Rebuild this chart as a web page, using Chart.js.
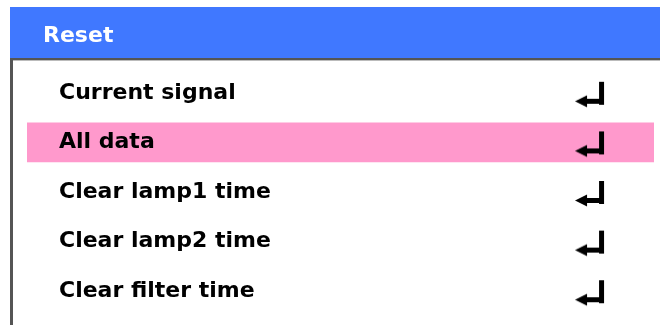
<!DOCTYPE html>
<html>
<head>
<meta charset="utf-8">
<script src="https://cdn.jsdelivr.net/npm/chart.js@4/dist/chart.umd.min.js"></script>
<style>
  html, body { margin: 0; padding: 0; background: #fff; }
  #wrap { width: 660px; height: 325px; position: relative; }
</style>
</head>
<body>
<div id="wrap"><canvas id="Reset-Chart"></canvas></div>
<script>
//-------------------------------------------------- Data
const menuTitle = "Reset";
const menuItems = ["Current signal", "All data", "Clear lamp1 time", "Clear lamp2 time", "Clear filter time"];
const selected = [0, 1, 0, 0, 0];            // highlighted row
const enterMarks = [0.898, 0.898, 0.898, 0.898, 0.898]; // enter key column
//^^^^^^^^^^^^^^^^^^^^^^^^^^^^^^^^^^^^^^^^^^^^^^^^^^ Data

// little "enter" arrow used as point style
function enterIcon() {
	const c = document.createElement("canvas");
	c.width = 30; c.height = 32;
	const g = c.getContext("2d");
	g.fillStyle = "#000";
	g.fillRect(24, 5, 5, 23);
	g.fillRect(10, 22, 19, 5);
	g.beginPath();
	g.moveTo(0, 24.5);
	g.lineTo(12, 18.5);
	g.lineTo(12, 30.5);
	g.closePath();
	g.fill();
	return c;
}

// header bar + frame around the menu
const menuFrame = {
	id: "menuFrame",
	beforeDraw(chart) {
		const ctx = chart.ctx;
		ctx.save();
		ctx.fillStyle = "#4078ff";
		ctx.fillRect(10, 7, 650, 51);
		ctx.fillStyle = "#555";
		ctx.fillRect(10, 58, 650, 2);
		ctx.fillStyle = "#bbb";
		ctx.fillRect(13, 60, 647, 1);
		ctx.fillStyle = "#555";
		ctx.fillRect(10, 58, 3, 267);
		ctx.fillStyle = "#fff";
		ctx.font = "bold 22px 'DejaVu Sans'";
		ctx.textBaseline = "alphabetic";
		ctx.fillText(menuTitle, 43, 42);
		ctx.restore();
	}
};

new Chart(document.getElementById("Reset-Chart").getContext("2d"), {
	type: "bar",
	data: {
		labels: menuItems,
		datasets: [
			{
				data: selected,
				order: 2,
				backgroundColor: "#ff99cc",
				borderWidth: 0,
				categoryPercentage: 1,
				barPercentage: 0.8
			},
			{
				type: "line",
				data: enterMarks,
				order: 1,
				showLine: false,
				pointStyle: enterIcon(),
				pointRadius: 15,
				indexAxis: "y"
			}
		]
	},
	options: {
		indexAxis: "y",
		responsive: true,
		maintainAspectRatio: false,
		animation: false,
		layout: { autoPadding: false, padding: { top: 68, bottom: 9, left: 27, right: 6 } },
		plugins: { legend: { display: false }, tooltip: { enabled: false }, title: { display: false } },
		scales: {
			x: { display: false, min: 0, max: 1 },
			y: {
				grid: { display: false, drawTicks: false },
				border: { display: false },
				afterFit: (s) => { s.width = 0; s.paddingTop = 0; s.paddingBottom = 0; },
				ticks: {
					z: 1,
					mirror: true,
					padding: 32,
					color: "#000",
					font: { family: "DejaVu Sans", weight: "bold", size: 22 }
				}
			}
		}
	},
	plugins: [menuFrame]
});
</script>
</body>
</html>
